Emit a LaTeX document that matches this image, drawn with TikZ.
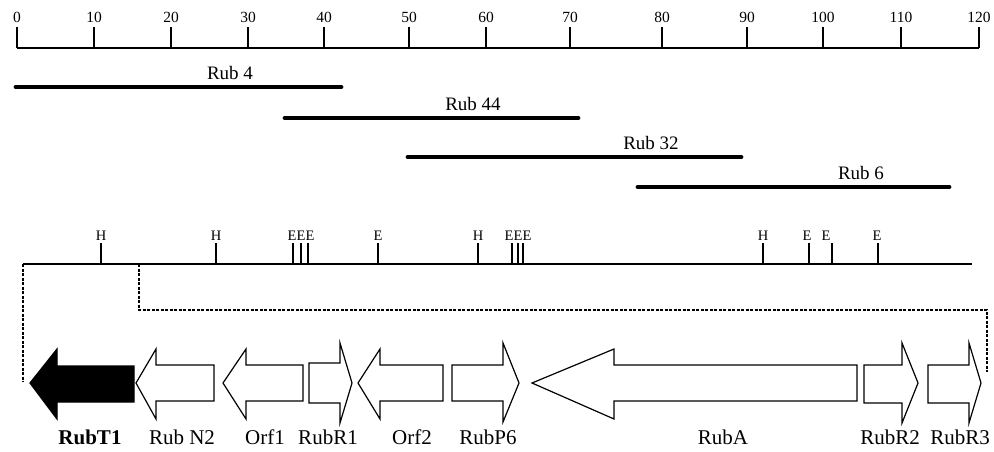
\documentclass[tikz,border=0pt]{standalone}
\usepackage{fontspec}
\setmainfont{Liberation Serif}
\begin{document}
\begin{tikzpicture}[x=1pt,y=-1pt,
  scaleline/.style={line width=2.2pt},
  scaletick/.style={line width=2.6pt},
  scalelabel/.style={font=\fontsize{15.5}{17}\selectfont, inner sep=0pt},
  clone/.style={line width=4.8pt, line cap=round},
  clonelabel/.style={font=\fontsize{19}{21}\selectfont, inner sep=0pt},
  mapline/.style={line width=2.2pt},
  site/.style={line width=2.2pt},
  sitelabel/.style={font=\fontsize{14.5}{16}\selectfont, inner sep=0pt},
  gene/.style={draw, line width=1.2pt, fill=white, line join=miter},
  genelabel/.style={font=\fontsize{21}{24}\selectfont, inner sep=0pt},
  zoomline/.style={line width=1.3pt, dash pattern=on 3pt off 1.5pt}]
\useasboundingbox (0,0) rectangle (994,452);

% ---- kb scale ----
\coordinate (s0) at (17,48);
\coordinate (s1) at (979,48);
\draw[scaleline] (s0) -- (s1);
\foreach \v/\xx in {0/17,10/94,20/171,30/248,40/324,50/409,60/486,70/570,80/662,90/747,100/823,110/901,120/979}{
  \draw[scaletick] (\xx,48) -- (\xx,27);
  \node[scalelabel] (t\v) at (\xx,17) {\v};
}

% ---- clones ----
\coordinate (c4a) at (16,87);  \coordinate (c4b) at (341,87);
\coordinate (c44a) at (285,118); \coordinate (c44b) at (578,118);
\coordinate (c32a) at (408,157); \coordinate (c32b) at (741,157);
\coordinate (c6a) at (638,187);  \coordinate (c6b) at (949,187);
\draw[clone] (c4a) -- (c4b);
\draw[clone] (c44a) -- (c44b);
\draw[clone] (c32a) -- (c32b);
\draw[clone] (c6a) -- (c6b);
\node[clonelabel] (rub4) at (230,73) {Rub 4};
\node[clonelabel] (rub44) at (473,104) {Rub 44};
\node[clonelabel] (rub32) at (651,143) {Rub 32};
\node[clonelabel] (rub6) at (861,173) {Rub 6};

% ---- restriction map ----
\coordinate (mL) at (23,264);
\coordinate (mR) at (972,264);
\draw[mapline] (mL) -- (mR);
\foreach \xx in {101,216,293,301,308,378,478,512,518,523,763,809,832,878}{
  \draw[site] (\xx,264) -- (\xx,243);
}
\foreach \xx/\l [count=\i] in {101/H,216/H,292/E,301/E,310/E,378/E,478/H,509/E,518/E,527/E,763/H,807/E,826/E,877/E}{
  \node[sitelabel] (site\i) at (\xx,236) {\l};
}

% ---- zoom lines ----
\coordinate (zA) at (23,264);
\coordinate (zA2) at (23,382);
\coordinate (zB) at (139,264);
\coordinate (zB1) at (139,310);
\coordinate (zB2) at (987,310);
\coordinate (zB3) at (987,372);
\draw[zoomline] (zA) -- (zA2);
\draw[zoomline] (zB) -- (zB1) -- (zB2) -- (zB3);

% ---- genes ----
% RubT1 (black, leftward)
\draw[gene, fill=black] (30,383) -- (57,349) -- (57,366) -- (134,366) -- (134,402) -- (57,402) -- (57,419) -- cycle;
% Rub N2
\draw[gene] (136,383) -- (156,349) -- (156,365) -- (214,365) -- (214,401) -- (156,401) -- (156,419) -- cycle;
% Orf1
\draw[gene] (223,383) -- (246,349) -- (246,365) -- (303,365) -- (303,401) -- (246,401) -- (246,419) -- cycle;
% RubR1 (rightward)
\draw[gene] (352,383) -- (340,343) -- (340,363) -- (309,363) -- (309,403) -- (340,403) -- (340,423) -- cycle;
% Orf2
\draw[gene] (358,383) -- (380,349) -- (380,365) -- (443,365) -- (443,401) -- (380,401) -- (380,419) -- cycle;
% RubP6 (rightward)
\draw[gene] (519,383) -- (503,343) -- (503,365) -- (452,365) -- (452,401) -- (503,401) -- (503,422) -- cycle;
% RubA
\draw[gene] (532,383) -- (614,349) -- (614,365) -- (857,365) -- (857,401) -- (614,401) -- (614,419) -- cycle;
% RubR2 (rightward)
\draw[gene] (918,383) -- (902,343) -- (902,365) -- (864,365) -- (864,403) -- (902,403) -- (902,423) -- cycle;
% RubR3 (rightward)
\draw[gene] (981,383) -- (969,343) -- (969,365) -- (928,365) -- (928,403) -- (969,403) -- (969,423) -- cycle;

% ---- gene labels ----
\node[genelabel, font=\fontsize{21}{24}\selectfont\bfseries] (lT1) at (90,437) {RubT1};
\node[genelabel] (lN2) at (182,437) {Rub N2};
\node[genelabel] (lO1) at (265,437) {Orf1};
\node[genelabel] (lR1) at (328,437) {RubR1};
\node[genelabel] (lO2) at (412,437) {Orf2};
\node[genelabel] (lP6) at (488,437) {RubP6};
\node[genelabel] (lA) at (723,437) {RubA};
\node[genelabel] (lR2) at (890,437) {RubR2};
\node[genelabel] (lR3) at (960,437) {RubR3};
\end{tikzpicture}
\end{document}
